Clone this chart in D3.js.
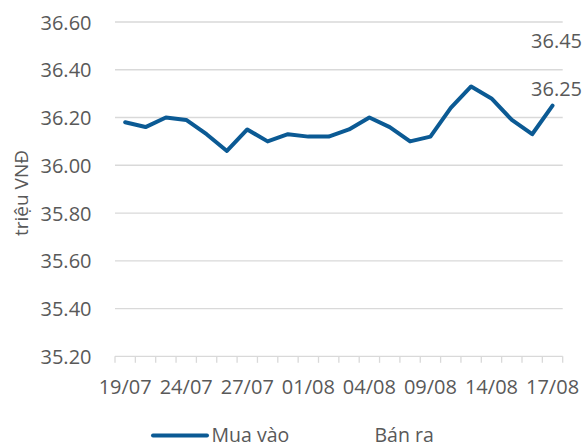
<!DOCTYPE html>
<html>
<head>
<meta charset="utf-8">
<script src="https://cdn.jsdelivr.net/npm/d3@7/dist/d3.min.js"></script>
<style>
  html, body { margin: 0; padding: 0; background: #fff; }
  svg { display: block; }
  text { font-family: "Open Sans", "Noto Sans", sans-serif; fill: #595959; }
</style>
</head>
<body>
<svg id="chart" width="583" height="448"></svg>
<script>
const dates = ["19/07","20/07","21/07","24/07","25/07","26/07","27/07","28/07","31/07","01/08","02/08",
               "03/08","04/08","07/08","08/08","09/08","10/08","11/08","14/08","15/08","16/08","17/08"];
const muaVao = [36.18,36.16,36.20,36.19,36.13,36.06,36.15,36.10,36.13,36.12,36.12,
                36.15,36.20,36.16,36.10,36.12,36.24,36.33,36.28,36.19,36.13,36.25];
const banRa  = [36.38,36.36,36.40,36.39,36.33,36.26,36.35,36.30,36.33,36.32,36.32,
                36.35,36.40,36.36,36.30,36.32,36.44,36.53,36.48,36.39,36.33,36.45];
const yTicks = [35.20,35.40,35.60,35.80,36.00,36.20,36.40,36.60];
const shownDates = ["19/07","24/07","27/07","01/08","04/08","09/08","14/08","17/08"];
const seriesNames = ["Mua vào","Bán ra"];

(function () {
const svg = d3.select("#chart");
const mL = 115, mR = 562.7, mT = 22, mB = 356.3;
const blue = "#0b5a94";
const grid = "#d9d9d9";

const x = d3.scaleBand().domain(dates).range([mL, mR]).paddingInner(0).paddingOuter(0);
const y = d3.scaleLinear().domain([35.20, 36.60]).range([mB, mT]);

// gridlines
svg.append("g").selectAll("line").data(yTicks.filter(t => t > 35.2)).join("line")
  .attr("x1", mL).attr("x2", mR)
  .attr("y1", d => y(d)).attr("y2", d => y(d))
  .attr("stroke", grid).attr("stroke-width", 1.3);

// y axis labels
const yAxis = d3.axisLeft(y).tickValues(yTicks).tickFormat(d3.format(".2f")).tickSize(0).tickPadding(0);
const gy = svg.append("g").attr("transform", `translate(${91.5},0)`).call(yAxis);
gy.select(".domain").remove();
gy.selectAll("text").attr("font-size", 20).style("fill", "#595959")
  .attr("font-family", "'Open Sans', sans-serif").attr("dy", "0.35em");

// x axis
const gx = svg.append("g").attr("transform", `translate(0,${mB})`);
gx.append("line").attr("x1", mL).attr("x2", mR).attr("y1", 0).attr("y2", 0)
  .attr("stroke", grid).attr("stroke-width", 1.3);
const boundaries = dates.map(d => x(d)).concat([mR]);
gx.selectAll("line.tick").data(boundaries).join("line").attr("class", "tick")
  .attr("x1", d => d).attr("x2", d => d).attr("y1", 0).attr("y2", 6.5)
  .attr("stroke", grid).attr("stroke-width", 1.3);
gx.selectAll("text").data(shownDates).join("text")
  .attr("x", d => x(d) + x.bandwidth() / 2).attr("y", 38)
  .attr("text-anchor", "middle").attr("font-size", 20).text(d => d);

// y axis title
svg.append("text").attr("transform", "translate(28,193) rotate(-90)")
  .attr("text-anchor", "middle").attr("font-size", 19).text("triệu VNĐ");

const cx = d => x(d) + x.bandwidth() / 2;
const line = d3.line().x((d, i) => cx(dates[i])).y(d => y(d));

// Bán ra series (no visible line in the reference)
svg.append("path").datum(banRa).attr("d", line).attr("fill", "none").attr("stroke", "none");

// Mua vào series
svg.append("path").datum(muaVao).attr("d", line).attr("fill", "none")
  .attr("stroke", blue).attr("stroke-width", 4).attr("stroke-linejoin", "round").attr("stroke-linecap", "round");

// end labels
const lastI = dates.length - 1;
[[muaVao, lastI], [banRa, lastI]].forEach(([s, i]) => {
  svg.append("text").attr("x", cx(dates[i]) + 4).attr("y", y(s[i]) - 10)
    .attr("text-anchor", "middle").attr("font-size", 20).text(d3.format(".2f")(s[i]));
});

// legend
const lg = svg.append("g");
const ly = 435.5;
const legendItems = [{name: seriesNames[0], x: 153, color: blue}, {name: seriesNames[1], x: 316, color: "none"}];
legendItems.forEach(it => {
  lg.append("line").attr("x1", it.x).attr("x2", it.x + 54).attr("y1", ly).attr("y2", ly)
    .attr("stroke", it.color).attr("stroke-width", 4).attr("stroke-linecap", "round");
  lg.append("text").attr("x", it.x + 58.5).attr("y", ly).attr("dy", "0.33em")
    .attr("font-size", 19.5).text(it.name);
});
})();
</script>
</body>
</html>
